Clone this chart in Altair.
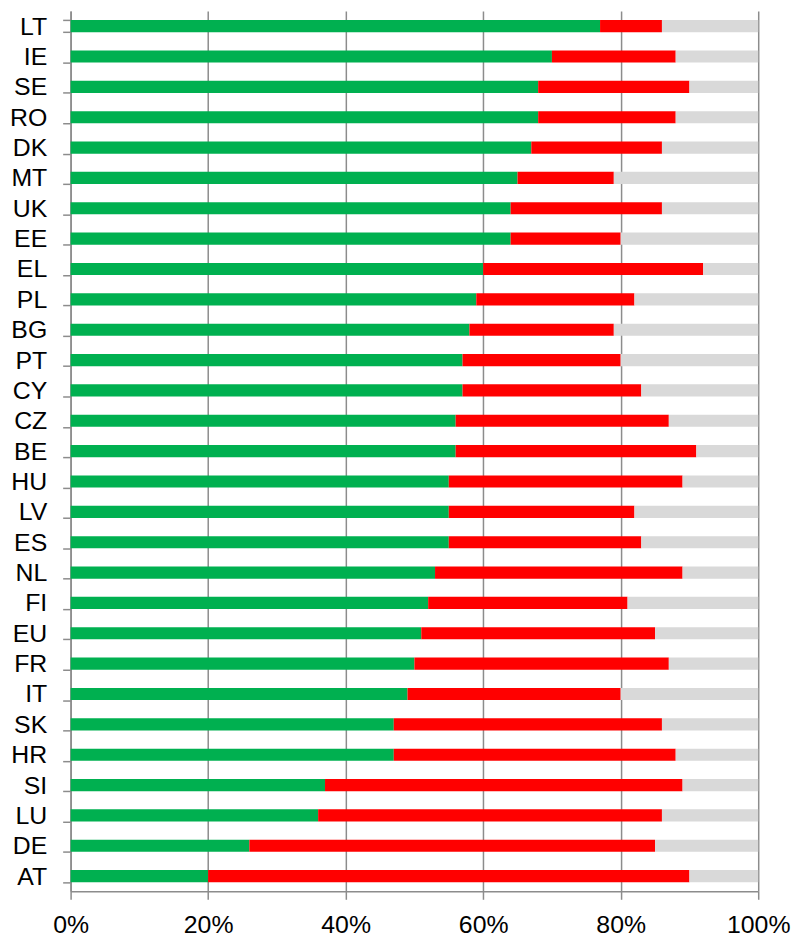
import altair as alt
import pandas as pd

countries = ["LT", "IE", "SE", "RO", "DK", "MT", "UK", "EE", "EL", "PL",
             "BG", "PT", "CY", "CZ", "BE", "HU", "LV", "ES", "NL", "FI",
             "EU", "FR", "IT", "SK", "HR", "SI", "LU", "DE", "AT"]
green = [77, 70, 68, 68, 67, 65, 64, 64, 60, 59,
         58, 57, 57, 56, 56, 55, 55, 55, 53, 52,
         51, 50, 49, 47, 47, 37, 36, 26, 20]
red_end = [86, 88, 90, 88, 86, 79, 86, 80, 92, 82,
           79, 80, 83, 87, 91, 89, 82, 83, 89, 81,
           85, 87, 80, 86, 88, 89, 86, 85, 90]
series = ["Green", "Red", "Grey"]
colors = ["#00B050", "#FF0000", "#D9D9D9"]
x_ticks = [0, 20, 40, 60, 80, 100]

rows = []
for c, g, r in zip(countries, green, red_end):
    vals = [g, r - g, 100 - r]
    for i, (s, v) in enumerate(zip(series, vals)):
        rows.append({"country": c, "series": s, "value": v, "ord": i})
df = pd.DataFrame(rows)

axis_gray = "#8C8C8C"
font = "Liberation Sans"

chart = alt.Chart(df).mark_bar().encode(
    x=alt.X("value:Q", stack="zero",
            scale=alt.Scale(domain=[0, 100], nice=False),
            axis=alt.Axis(title=None, values=x_ticks,
                          labelExpr="datum.value + '%'",
                          grid=True, gridColor=axis_gray, gridWidth=1.5,
                          domainColor=axis_gray, domainWidth=1.5,
                          tickColor=axis_gray, tickWidth=1.5, tickSize=8,
                          labelPadding=13, labelFont=font, labelFontSize=25,
                          labelColor="#000000", labelFlush=False)),
    y=alt.Y("country:N", sort=countries,
            scale=alt.Scale(paddingInner=0.6, paddingOuter=0.3),
            axis=alt.Axis(title=None, grid=False, tickBand="extent",
                          domainColor=axis_gray, domainWidth=1.5,
                          tickColor=axis_gray, tickWidth=1.5, tickSize=8,
                          labelPadding=16, labelFont=font, labelFontSize=25,
                          labelColor="#000000")),
    color=alt.Color("series:N", scale=alt.Scale(domain=series, range=colors),
                    legend=None),
    order=alt.Order("ord:Q"),
).properties(
    width=692,
    height=886,
    autosize=alt.AutoSizeParams(type="none"),
    padding={"left": 63, "top": 0, "right": 33, "bottom": 45},
    background="white",
).configure_view(stroke=None)

chart.save("out.html", embed_options={"renderer": "svg", "actions": False})
